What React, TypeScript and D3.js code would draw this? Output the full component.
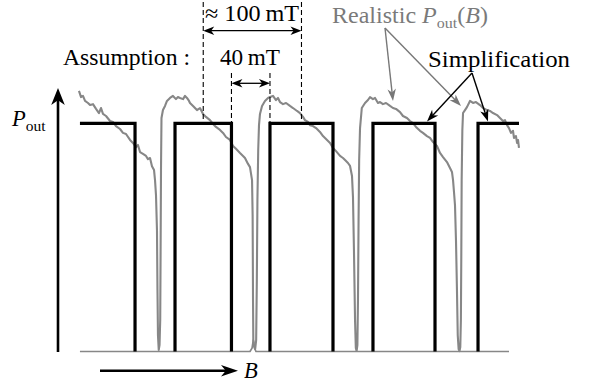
import React from "react";
import * as d3 from "d3";

// ---- Data (B in mT, P_out in % of the simplified high level) ----
const SQ_RISE = [22.4, 119.4, 216.3, 321.4, 428.6];
const SQ_FALL = [78.6, 177.0, 280.6, 384.7, 470.4];
const SQ_HIGH = 100;
const SQ_LOW = 0;

const REAL_B = [
  21.4, 23.5, 25.5, 27.6, 30.6, 32.7, 35.7, 38.8, 41.8, 43.9, 45.9, 49.0, 53.1, 56.1, 59.2, 63.3, 66.3, 69.4,
  73.5, 76.5, 79.6, 81.6, 83.7, 86.7, 89.8, 91.8, 93.9, 95.9, 98.0, 99.0, 100.0, 101.0, 101.5, 102.0, 102.8,
  103.6, 104.3, 104.7, 105.1, 105.6, 107.1, 109.2, 111.2, 114.3, 117.3, 120.4, 122.4, 124.5, 127.6, 129.6,
  131.6, 133.7, 134.7, 137.8, 141.8, 144.9, 148.0, 151.0, 155.1, 158.2, 161.2, 165.3, 168.4, 171.4, 175.5,
  178.6, 181.6, 185.7, 188.8, 190.8, 193.9, 195.9, 198.0, 198.6, 199.0, 199.3, 200.0, 201.2, 202.2, 202.9,
  203.5, 204.3, 205.1, 206.1, 208.2, 211.2, 214.3, 216.3, 219.4, 222.4, 224.5, 226.5, 229.6, 232.7, 236.7,
  239.8, 243.9, 246.9, 250.0, 252.0, 255.1, 257.1, 260.2, 263.3, 267.3, 270.4, 273.5, 277.6, 280.6, 283.7,
  287.8, 290.8, 292.9, 295.9, 298.0, 300.0, 301.0, 302.0, 303.1, 303.9, 304.7, 305.5, 306.1, 306.7, 307.3,
  308.2, 310.0, 313.3, 316.3, 318.4, 321.4, 323.5, 326.5, 328.6, 331.6, 334.7, 338.8, 341.8, 344.9, 349.0,
  352.0, 356.1, 359.2, 362.2, 365.3, 369.4, 372.4, 376.5, 379.6, 382.7, 386.7, 389.8, 392.9, 396.9, 400.0,
  402.0, 403.1, 404.1, 405.1, 406.1, 407.1, 407.9, 408.8, 409.7, 410.5, 411.1, 411.5, 411.9, 412.6, 413.3,
  415.3, 417.3, 420.4, 423.5, 426.5, 430.6, 433.7, 437.8, 440.8, 443.9, 448.0, 451.0, 454.1, 456.1, 458.2,
  460.2, 462.2, 464.3, 465.3, 467.3, 468.4, 469.4, 470.4,
];
const REAL_P = [
  114.2, 111.5, 112.0, 109.8, 108.9, 108.0, 108.4, 106.3, 104.5, 106.7, 104.1, 103.2, 101.0, 100.6, 98.8, 97.5, 95.8, 95.3,
  92.7, 91.4, 89.6, 90.5, 87.4, 86.6, 85.7, 84.3, 84.8, 81.2, 79.5, 75.1, 68.5, 53.2, 26.9, 7.2, 0.7,
  2.8, 13.8, 44.5, 79.5, 102.3, 105.8, 107.6, 109.8, 111.1, 112.0, 110.6, 111.5, 111.1, 110.6, 112.0,
  111.1, 109.8, 108.9, 107.6, 105.8, 106.7, 104.1, 102.8, 101.4, 99.7, 98.4, 97.1, 95.8, 94.0, 92.7,
  90.1, 88.8, 87.0, 85.7, 84.8, 82.2, 80.8, 75.1, 59.8, 22.6, 5.0, 2.4, 1.1, 5.0, 31.3,
  66.4, 88.3, 99.2, 104.1, 107.6, 109.8, 111.1, 111.5, 112.0, 110.2, 111.1, 109.3, 108.4, 108.9, 107.6,
  106.7, 105.4, 104.5, 102.8, 101.4, 100.6, 99.2, 98.8, 97.9, 96.2, 94.4, 93.1, 91.4, 89.2, 87.8,
  85.7, 84.8, 83.9, 82.6, 81.3, 76.9, 67.7, 44.5, 13.8, 1.5, 0.2, 2.8, 22.6, 57.6, 83.9,
  97.9, 106.7, 108.9, 110.2, 111.5, 110.6, 111.1, 108.9, 109.3, 108.4, 108.9, 107.6, 106.7, 106.3, 104.9,
  103.2, 102.3, 101.0, 100.1, 98.4, 96.7, 95.8, 94.4, 93.6, 91.8, 90.1, 87.0, 85.2, 83.0, 80.4,
  78.7, 75.1, 69.8, 64.1, 48.9, 27.0, 7.2, 1.1, 0.2, 2.0, 13.8, 40.1, 75.1, 97.1, 104.5,
  105.8, 107.1, 109.8, 108.9, 109.3, 108.0, 106.7, 105.8, 105.4, 104.5, 103.6, 102.3, 101.0, 101.4, 99.2,
  97.9, 95.8, 96.7, 93.6, 94.4, 91.4, 92.7, 89.2,
];

const BASE_B = [22.4, 195.9, 198.0, 199.3, 200.6, 202.0, 460.2];
const BASE_P = [0, 0, 1.5, 5, 1.5, 0, 0];

const PERIOD_LABEL = "≈ 100\u2009mT";
const GAP_LABEL = "40\u2009mT";

const W = 589;
const H = 385;
const FONT = "'Liberation Serif', 'Times New Roman', serif";
const GRAY = "#878787";

function arrowHead(tx: number, ty: number, fx: number, fy: number, len: number, half: number) {
  const dx = tx - fx;
  const dy = ty - fy;
  const d = Math.hypot(dx, dy) || 1;
  const ux = dx / d;
  const uy = dy / d;
  const px = -uy;
  const py = ux;
  const bx = tx - ux * len;
  const by = ty - uy * len;
  const nx = tx - ux * len * 0.72;
  const ny = ty - uy * len * 0.72;
  return `M${tx},${ty} L${bx + px * half},${by + py * half} L${nx},${ny} L${bx - px * half},${by - py * half} Z`;
}

function Arrow({ x1, y1, x2, y2, color, width, len, half }: any) {
  const d = Math.hypot(x2 - x1, y2 - y1);
  const ex = x2 - ((x2 - x1) / d) * len * 0.6;
  const ey = y2 - ((y2 - y1) / d) * len * 0.6;
  return (
    <g>
      <line x1={x1} y1={y1} x2={ex} y2={ey} stroke={color} strokeWidth={width} />
      <path d={arrowHead(x2, y2, x1, y1, len, half)} fill={color} />
    </g>
  );
}

function DoubleArrow({ x1, x2, y, len, half }: any) {
  return (
    <g>
      <line x1={x1 + len * 0.6} x2={x2 - len * 0.6} y1={y} y2={y} stroke="#000" strokeWidth={1.3} />
      <path d={arrowHead(x1, y, x2, y, len, half)} fill="#000" />
      <path d={arrowHead(x2, y, x1, y, len, half)} fill="#000" />
    </g>
  );
}

export default function App() {
  const x = d3.scaleLinear().domain([0, 540]).range([58, 58 + 540 * 0.98]);
  const y = d3.scaleLinear().domain([0, 100]).range([351.5, 123.3]);

  // Simplified square wave
  let sq = "";
  SQ_RISE.forEach((r, i) => {
    const f = SQ_FALL[i];
    if (i === 0) sq += `M${x(r)},${y(SQ_HIGH)}`;
    else sq += `M${x(r)},${y(SQ_LOW)} L${x(r)},${y(SQ_HIGH)}`;
    sq += ` L${x(f)},${y(SQ_HIGH)}`;
    if (i < SQ_RISE.length - 1) sq += ` L${x(f)},${y(SQ_LOW)} `;
  });

  const lineGen = d3
    .line<[number, number]>()
    .x((d) => x(d[0]))
    .y((d) => y(d[1]));
  const realPath = lineGen(REAL_B.map((b, i) => [b, REAL_P[i]] as [number, number]));
  const basePath = lineGen(BASE_B.map((b, i) => [b, BASE_P[i]] as [number, number]));

  // Annotation anchors from data
  const c1 = x((SQ_RISE[1] + SQ_FALL[1]) / 2);
  const c2 = x((SQ_RISE[2] + SQ_FALL[2]) / 2);
  const g1 = x(SQ_FALL[1]);
  const g2 = x(SQ_RISE[2]);
  const top = y(SQ_HIGH);

  const axisX = x(0);
  const axisBottom = y(0) + 0.5;

  return (
    <>
      <style>{`body{margin:0}`}</style>
      <svg width={W} height={H} style={{ display: "block", background: "#fff" }} fontFamily={FONT}>
        {/* gray realistic curve */}
        <path d={basePath || ""} fill="none" stroke={GRAY} strokeWidth={1.7} strokeLinejoin="round" />
        <path d={realPath || ""} fill="none" stroke={GRAY} strokeWidth={2.1} strokeLinejoin="round" />

        {/* black simplified */}
        <path d={sq} fill="none" stroke="#000" strokeWidth={3.2} strokeLinejoin="miter" />

        {/* dashed guides */}
        <line x1={c1} x2={c1} y1={2} y2={top} stroke="#000" strokeWidth={1.1} strokeDasharray="5,3" />
        <line x1={c2} x2={c2} y1={2} y2={top} stroke="#000" strokeWidth={1.1} strokeDasharray="5,3" />
        <line x1={g1} x2={g1} y1={73} y2={top} stroke="#000" strokeWidth={1.1} strokeDasharray="5,3" />
        <line x1={g2} x2={g2} y1={73} y2={top} stroke="#000" strokeWidth={1.1} strokeDasharray="5,3" />

        <DoubleArrow x1={c1} x2={c2} y={30.7} len={11} half={4.2} />
        <DoubleArrow x1={g1} x2={g2} y={83.3} len={11} half={4.2} />

        {/* y axis */}
        <line x1={axisX} x2={axisX} y1={axisBottom} y2={96} stroke="#000" strokeWidth={2.6} />
        <path d={arrowHead(axisX, 88, axisX, 300, 17, 6.8)} fill="#000" />

        {/* B arrow */}
        <line x1={100} x2={228} y1={370.7} y2={370.7} stroke="#000" strokeWidth={2.6} />
        <path d={arrowHead(238, 370.7, 100, 370.7, 17, 5.8)} fill="#000" />

        {/* gray pointer arrows */}
        <Arrow x1={385} y1={28} x2={393} y2={101} color="#777" width={1.4} len={12} half={4.2} />
        <Arrow x1={385} y1={28} x2={461} y2={106} color="#777" width={1.4} len={12} half={4.2} />
        {/* black pointer arrows */}
        <Arrow x1={472} y1={73} x2={427} y2={121.5} color="#000" width={1.4} len={12} half={4.2} />
        <Arrow x1={472} y1={73} x2={488} y2={121.5} color="#000" width={1.4} len={12} half={4.2} />

        {/* texts */}
        <text x={205} y={21} fontSize={22.5} fill="#000" textLength={94} lengthAdjust="spacingAndGlyphs">
          {PERIOD_LABEL}
        </text>
        <text x={63} y={65} fontSize={22.5} fill="#000" textLength={127} lengthAdjust="spacingAndGlyphs">
          Assumption :
        </text>
        <text x={220} y={65} fontSize={22.5} fill="#000" textLength={60} lengthAdjust="spacingAndGlyphs">
          {GAP_LABEL}
        </text>
        <text x={428} y={66.7} fontSize={22.5} fill="#000" textLength={142} lengthAdjust="spacingAndGlyphs">
          Simplification
        </text>
        <text x={332} y={23} fontSize={22.5} fill="#7a7a7a" textLength={156} lengthAdjust="spacingAndGlyphs">
          Realistic <tspan fontStyle="italic">P</tspan>
          <tspan fontSize={15} dy={5}>out</tspan>
          <tspan dy={-5}>(</tspan>
          <tspan fontStyle="italic">B</tspan>
          <tspan>)</tspan>
        </text>
        <text x={12} y={125.5} fontSize={22.5} fill="#000">
          <tspan fontStyle="italic">P</tspan>
          <tspan fontSize={15.5} dy={5}>out</tspan>
        </text>
        <text x={244} y={378} fontSize={22.5} fill="#000" fontStyle="italic">
          B
        </text>
      </svg>
    </>
  );
}
